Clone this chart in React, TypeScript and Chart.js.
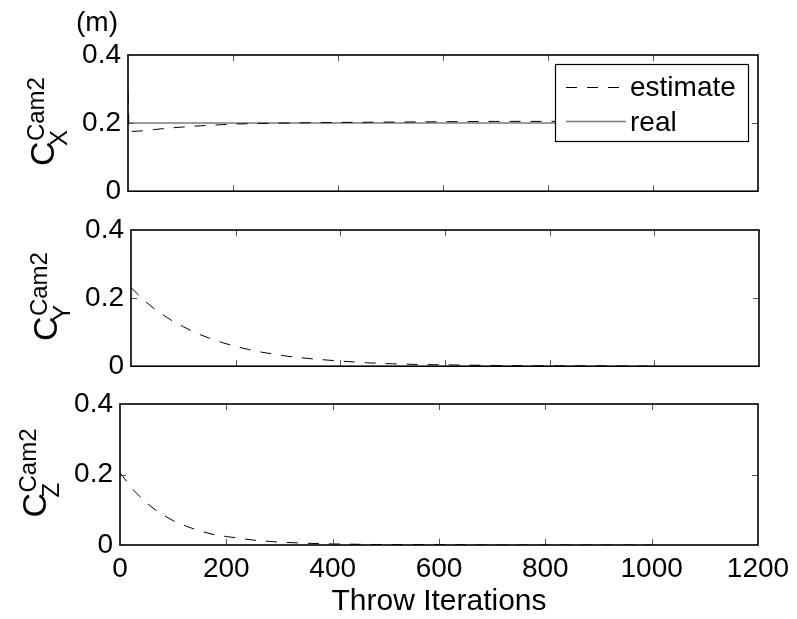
import React, { useEffect, useRef } from "react";
import { Chart, registerables } from "chart.js";

Chart.register(...registerables);

const FONT = "'Liberation Sans', Arial, Helvetica, sans-serif";

// ---- data ----
const xTicks = [0, 200, 400, 600, 800, 1000, 1200];
const yTicks = [0, 0.2, 0.4];
const seriesNames = ["estimate", "real"];

const iterX = [0, 2, 25, 50, 75, 100, 125, 150, 175, 200, 250, 300, 350, 400, 500, 600, 700, 800, 900, 1000];
const estimateX = [0.29, 0.175, 0.177, 0.181, 0.185, 0.188, 0.191, 0.193, 0.195, 0.197, 0.199, 0.2, 0.201, 0.202, 0.203, 0.204, 0.205, 0.205, 0.206, 0.206];
const realIterX = [0, 1000];
const realX = [0.2, 0.2];

const iterY = [0, 25, 50, 75, 100, 125, 150, 175, 200, 225, 250, 275, 300, 350, 400, 450, 500, 550, 600, 700, 800, 900, 1000];
const estimateY = [0.231, 0.193, 0.162, 0.137, 0.116, 0.097, 0.082, 0.069, 0.058, 0.049, 0.041, 0.035, 0.029, 0.021, 0.015, 0.01, 0.007, 0.005, 0.004, 0.002, 0.001, 0.001, 0.0];

const iterZ = [0, 25, 50, 75, 100, 125, 150, 175, 200, 250, 300, 350, 400, 500, 600, 700, 800, 900, 1000];
const estimateZ = [0.205, 0.156, 0.119, 0.09, 0.069, 0.053, 0.04, 0.03, 0.024, 0.014, 0.008, 0.005, 0.003, 0.001, 0.001, 0.0, 0.0, 0.0, 0.0];

const ESTIMATE_COLOR = "#000000";
const REAL_COLOR = "#7a7a7a";
const DASH = [11, 10];

type Panel = {
  key: string;
  sub: string;
  canvasTop: number;
  canvasH: number;
  padTop: number;
  padBottom: number;
  padRight: number;
  yWidth: number;
  showX: boolean;
  xHeight?: number;
  datasets: any[];
  legend?: boolean;
  unit?: boolean;
  xTitle?: string;
};

const toPts = (xs: number[], ys: number[]) => xs.map((x, i) => ({ x, y: ys[i] }));

const estimateDs = (xs: number[], ys: number[]) => ({
  label: seriesNames[0],
  data: toPts(xs, ys),
  borderColor: ESTIMATE_COLOR,
  borderWidth: 1,
  borderDash: DASH,
  pointRadius: 0,
  tension: 0,
  fill: false,
});

const panels: Panel[] = [
  {
    key: "x",
    sub: "X",
    canvasTop: 0,
    canvasH: 215,
    padTop: 55,
    padBottom: 18,
    padRight: 39,
    yWidth: 128,
    showX: false,
    legend: true,
    unit: true,
    datasets: [
      estimateDs(iterX, estimateX),
      {
        label: seriesNames[1],
        data: toPts(realIterX, realX),
        borderColor: REAL_COLOR,
        borderWidth: 1.5,
        pointRadius: 0,
        tension: 0,
        fill: false,
      },
    ],
  },
  {
    key: "y",
    sub: "Y",
    canvasTop: 200,
    canvasH: 190,
    padTop: 30,
    padBottom: 18,
    padRight: 38,
    yWidth: 131,
    showX: false,
    datasets: [estimateDs(iterY, estimateY)],
  },
  {
    key: "z",
    sub: "Z",
    canvasTop: 380,
    canvasH: 239,
    padTop: 24,
    padBottom: 0,
    padRight: 39,
    yWidth: 120,
    showX: true,
    xHeight: 74,
    xTitle: "Throw Iterations",
    datasets: [estimateDs(iterZ, estimateZ)],
  },
];

function makePlugin(p: Panel) {
  return {
    id: "matlabFrame" + p.key,
    afterDatasetsDraw(chart: any) {
      const ctx = chart.ctx as CanvasRenderingContext2D;
      const a = chart.chartArea;
      const xs = chart.scales.x;
      const ys = chart.scales.y;
      ctx.save();
      // inward ticks
      ctx.strokeStyle = "#555";
      ctx.lineWidth = 1;
      ctx.setLineDash([]);
      xTicks.slice(1, -1).forEach((v) => {
        const px = Math.round(xs.getPixelForValue(v)) + 0.5;
        ctx.beginPath();
        ctx.moveTo(px, a.bottom);
        ctx.lineTo(px, a.bottom - 6);
        ctx.moveTo(px, a.top);
        ctx.lineTo(px, a.top + 6);
        ctx.stroke();
      });
      yTicks.slice(1, -1).forEach((v) => {
        const py = Math.round(ys.getPixelForValue(v)) + 0.5;
        ctx.beginPath();
        ctx.moveTo(a.left, py);
        ctx.lineTo(a.left + 6, py);
        ctx.moveTo(a.right, py);
        ctx.lineTo(a.right - 6, py);
        ctx.stroke();
      });
      // box
      ctx.strokeStyle = "#000";
      ctx.lineWidth = 1.6;
      ctx.strokeRect(a.left, a.top, a.right - a.left, a.bottom - a.top);
      ctx.restore();
    },
    afterDraw(chart: any) {
      const ctx = chart.ctx as CanvasRenderingContext2D;
      const a = chart.chartArea;
      ctx.save();
      ctx.fillStyle = "#000";
      // y label: C with subscript and superscript, rotated
      const cx = a.left - 74;
      const cy = (a.top + a.bottom) / 2 + 43;
      ctx.translate(cx, cy);
      ctx.rotate(-Math.PI / 2);
      ctx.textAlign = "left";
      ctx.textBaseline = "alphabetic";
      ctx.font = `34px ${FONT}`;
      ctx.fillText("C", 0, 0);
      ctx.font = `24px ${FONT}`;
      ctx.fillText(p.sub, 20, 13);
      ctx.fillText("Cam2", 25, -10);
      ctx.restore();

      if (p.unit) {
        ctx.save();
        ctx.fillStyle = "#000";
        ctx.font = `28px ${FONT}`;
        ctx.textAlign = "left";
        ctx.textBaseline = "alphabetic";
        ctx.fillText("(m)", 76, 31);
        ctx.restore();
      }

      if (p.xTitle) {
        ctx.save();
        ctx.fillStyle = "#000";
        ctx.font = `30px ${FONT}`;
        ctx.textAlign = "center";
        ctx.textBaseline = "alphabetic";
        ctx.fillText(p.xTitle, (a.left + a.right) / 2, 230);
        ctx.restore();
      }

      if (p.legend) {
        const ds = chart.data.datasets;
        const bx = 555, by = 64, bw = 193, bh = 77;
        ctx.save();
        ctx.fillStyle = "#fff";
        ctx.fillRect(bx, by, bw, bh);
        ctx.strokeStyle = "#000";
        ctx.lineWidth = 1.2;
        ctx.strokeRect(bx + 0.5, by + 0.5, bw, bh);
        const rows = [87.5, 121.5];
        const baselines = [96, 131];
        ds.forEach((d: any, i: number) => {
          ctx.beginPath();
          ctx.strokeStyle = d.borderColor;
          ctx.lineWidth = d.borderWidth;
          ctx.setLineDash(d.borderDash || []);
          ctx.moveTo(566, rows[i]);
          ctx.lineTo(626, rows[i]);
          ctx.stroke();
          ctx.setLineDash([]);
          ctx.fillStyle = "#000";
          ctx.font = `28px ${FONT}`;
          ctx.textAlign = "left";
          ctx.textBaseline = "alphabetic";
          ctx.fillText(d.label, 630, baselines[i]);
        });
        ctx.restore();
      }
    },
  };
}

function PanelChart({ p }: { p: Panel }) {
  const ref = useRef<HTMLCanvasElement | null>(null);
  useEffect(() => {
    if (!ref.current) return;
    const chart = new Chart(ref.current, {
      type: "line",
      data: { datasets: p.datasets },
      options: {
        animation: false,
        responsive: false,
        events: [],
        layout: {
          padding: { top: p.padTop, bottom: p.padBottom, left: 0, right: p.padRight },
        },
        plugins: {
          legend: { display: false },
          tooltip: { enabled: false },
          title: { display: false },
        },
        scales: {
          x: {
            type: "linear",
            min: 0,
            max: 1200,
            display: p.showX,
            grid: { display: false, drawTicks: false },
            border: { display: false },
            afterBuildTicks: (s: any) => {
              s.ticks = xTicks.map((v) => ({ value: v }));
            },
            afterFit: (s: any) => {
              if (p.showX && p.xHeight) s.height = p.xHeight;
            },
            ticks: {
              autoSkip: false,
              maxRotation: 0,
              minRotation: 0,
              padding: 7,
              color: "#000",
              font: { family: FONT, size: 28 },
              callback: (v: any) => String(v),
            },
          },
          y: {
            type: "linear",
            min: 0,
            max: 0.4,
            grid: { display: false, drawTicks: false },
            border: { display: false },
            afterBuildTicks: (s: any) => {
              s.ticks = yTicks.map((v) => ({ value: v }));
            },
            afterFit: (s: any) => {
              s.width = p.yWidth;
            },
            ticks: {
              padding: 7,
              color: "#000",
              font: { family: FONT, size: 28 },
              callback: (v: any) => String(Math.round(v * 10) / 10),
            },
          },
        },
      } as any,
      plugins: [makePlugin(p)],
    });
    return () => chart.destroy();
  }, [p]);
  return (
    <canvas
      ref={ref}
      width={797}
      height={p.canvasH}
      style={{ position: "absolute", left: 0, top: p.canvasTop, width: 797, height: p.canvasH }}
    />
  );
}

export default function App() {
  return (
    <div style={{ position: "absolute", left: 0, top: 0, width: 797, height: 619, background: "#fff", overflow: "hidden" }}>
      {panels.map((p) => (
        <PanelChart key={p.key} p={p} />
      ))}
    </div>
  );
}
